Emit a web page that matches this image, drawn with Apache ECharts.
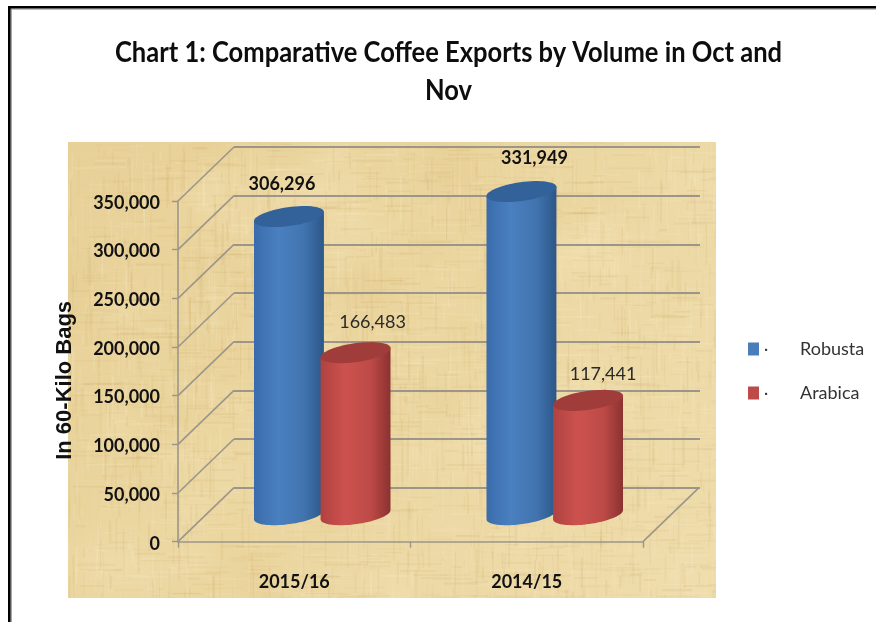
<!DOCTYPE html>
<html>
<head>
<meta charset="utf-8">
<title>Comparative Coffee Exports</title>
<style>html,body{margin:0;padding:0;background:#fff}#chart{width:876px;height:622px}</style>
<script src="https://cdn.jsdelivr.net/npm/echarts@6/dist/echarts.min.js"></script>
</head>
<body>
<div id="chart"></div>
<script>
// Export volumes in 60-kilo bags
const categories = ['2015/16', '2014/15'];
const robusta = [306296, 331949];
const arabica = [166483, 117441];
const yTicks = { min: 0, max: 350000, interval: 50000 };

// Oblique projection of the chart box
const DEPTH = { dx: 56, dy: 54 };
const MID = 0.5;           // cylinders stand halfway back on the floor
const PAIR_OFFSET = 33.3;  // half the spacing of the two cylinders in a pair
const RX = 35.3, RY = 9.4, TILT = -8 * Math.PI / 180;
const GRID_COLOR = '#9c968a';
const TEXT_FONT = 'Lato, "Open Sans", sans-serif';

// Value labels sit a little off the cylinder axis
const robustaLabelShift = [[-7, -32.5], [13, -33]];
const arabicaLabelShift = [[17, -30.5], [15, -26]];

const ROBUSTA_SHADE = ['#3a6cab', '#4a80c0', '#4173ae', '#2c5788'];
const ARABICA_SHADE = ['#b04240', '#cc524f', '#bd4a47', '#8a3230'];

function ringPoint(cx, cy, t) {
  const c = Math.cos(t), s = Math.sin(t);
  return [
    cx + RX * c * Math.cos(TILT) - RY * s * Math.sin(TILT),
    cy + RX * c * Math.sin(TILT) + RY * s * Math.cos(TILT)
  ];
}

function ring(cx, cy, from, to, n) {
  const pts = [];
  for (let i = 0; i <= n; i++) pts.push(ringPoint(cx, cy, from + (to - from) * i / n));
  return pts;
}

function cylinder(sign, shade, topColor, labelShift, bold) {
  return function (params, api) {
    const cat = api.value(0);
    const top = api.coord([cat, api.value(1)]);
    const base = api.coord([cat, 0]);
    const cx = top[0] + DEPTH.dx * MID + sign * PAIR_OFFSET;
    const topY = top[1] - DEPTH.dy * MID;
    const baseY = base[1] - DEPTH.dy * MID;
    const shift = labelShift[params.dataIndex];
    const outline = ring(cx, baseY, Math.PI, 0, 40).concat(
      [ringPoint(cx, topY, 0), ringPoint(cx, topY, Math.PI)]
    );
    return {
      type: 'group',
      children: [
        {
          type: 'polygon',
          shape: { points: outline },
          style: {
            fill: new echarts.graphic.LinearGradient(0, 0, 1, 0, [
              { offset: 0, color: shade[0] },
              { offset: 0.35, color: shade[1] },
              { offset: 0.72, color: shade[2] },
              { offset: 1, color: shade[3] }
            ])
          }
        },
        {
          type: 'polygon',
          shape: { points: ring(cx, topY, 0, Math.PI * 2, 60) },
          style: { fill: topColor }
        },
        {
          type: 'text',
          style: {
            x: cx + shift[0],
            y: topY + shift[1],
            text: api.value(1).toLocaleString('en-US'),
            align: 'center',
            verticalAlign: 'middle',
            fill: bold ? '#111' : '#2a2a2a',
            font: (bold ? 'bold ' : '400 ') + '18px ' + TEXT_FONT
          }
        }
      ]
    };
  };
}

// Diagonals joining the front axis to the back wall at every tick, plus the floor's right edge.
// The first value is a position along the x axis in band widths from the first category.
function depthLines(params, api) {
  const p = api.coord([0, api.value(1)]);
  const x = p[0] + api.value(0) * api.size([1, 0])[0];
  return {
    type: 'line',
    shape: { x1: x, y1: p[1], x2: x + DEPTH.dx, y2: p[1] - DEPTH.dy },
    style: { stroke: GRID_COLOR, lineWidth: 1.6 }
  };
}

// Parchment backdrop: warm base with fine crossed fibres and faint blotches
function parchment(w, h) {
  const cv = document.createElement('canvas');
  cv.width = w; cv.height = h;
  const g = cv.getContext('2d');
  let seed = 20151;
  const rnd = () => (seed = (seed * 16807) % 2147483647) / 2147483647;
  const base = g.createLinearGradient(0, 0, w, h);
  base.addColorStop(0, '#e8d198');
  base.addColorStop(0.45, '#ebd6a0');
  base.addColorStop(1, '#eedcab');
  g.fillStyle = base;
  g.fillRect(0, 0, w, h);
  for (let i = 0; i < 70; i++) {
    const x = rnd() * w, y = rnd() * h, r = 25 + rnd() * 50;
    const dark = rnd() < 0.5;
    const b = g.createRadialGradient(x, y, 0, x, y, r);
    b.addColorStop(0, dark ? 'rgba(222,192,125,0.18)' : 'rgba(248,234,196,0.22)');
    b.addColorStop(1, 'rgba(236,215,162,0)');
    g.fillStyle = b;
    g.fillRect(x - r, y - r, r * 2, r * 2);
  }
  for (let i = 0; i < 3600; i++) {
    const dark = rnd() < 0.5;
    g.fillStyle = dark
      ? 'rgba(200,162,92,' + (0.05 + rnd() * 0.10) + ')'
      : 'rgba(252,240,208,' + (0.06 + rnd() * 0.12) + ')';
    if (i % 2) g.fillRect(rnd() * w, rnd() * h, 1 + rnd() * 1.2, 6 + rnd() * 40);
    else g.fillRect(rnd() * w, rnd() * h, 6 + rnd() * 40, 1 + rnd() * 1.2);
  }
  return cv;
}

const floorEdge = [[1.5, 0]];
const tickRows = [];
for (let v = yTicks.min; v <= yTicks.max; v += yTicks.interval) tickRows.push([-0.5, v]);

const chart = echarts.init(document.getElementById('chart'), null, { renderer: 'canvas' });
chart.setOption({
  animation: false,
  backgroundColor: '#fff',
  legend: {
    orient: 'vertical',
    left: 748,
    top: 340,
    padding: 0,
    itemWidth: 11,
    itemHeight: 13,
    itemGap: 26,
    icon: 'rect',
    data: ['Robusta', 'Arabica'],
    formatter: name => '{d|·}{n|' + name + '}',
    textStyle: {
      rich: {
        d: { width: 36, fontSize: 16, color: '#333', fontFamily: TEXT_FONT },
        n: { fontSize: 18, color: '#333', fontFamily: TEXT_FONT }
      }
    }
  },
  grid: [
    { left: 178, top: 201, width: 465, height: 340.7 },
    { left: 234, top: 147, width: 466, height: 340.7 }
  ],
  xAxis: [
    {
      gridIndex: 0, type: 'category', data: categories,
      axisLine: { lineStyle: { color: GRID_COLOR, width: 1.6 } },
      axisTick: { show: true, length: 6, alignWithLabel: false, lineStyle: { color: GRID_COLOR, width: 1.4 } },
      axisLabel: { margin: 31, fontFamily: TEXT_FONT, fontWeight: 'bold', fontSize: 18, color: '#111' }
    },
    { gridIndex: 1, type: 'category', data: categories, show: false }
  ],
  yAxis: [
    {
      gridIndex: 0, type: 'value', min: yTicks.min, max: yTicks.max, interval: yTicks.interval,
      name: 'In 60-Kilo Bags',
      nameLocation: 'middle',
      nameGap: 102,
      nameTextStyle: {
        fontFamily: 'Liberation Sans', fontWeight: 'bold', fontSize: 22, color: '#111',
        padding: [0, 18, 0, 0]
      },
      axisLine: { show: true, lineStyle: { color: GRID_COLOR, width: 1.6 } },
      axisTick: { show: true, length: 6, lineStyle: { color: GRID_COLOR, width: 1.4 } },
      axisLabel: {
        margin: 18,
        formatter: v => '{t|' + v.toLocaleString('en-US') + '}',
        rich: {
          t: { padding: [4, 0, 0, 0], fontFamily: TEXT_FONT, fontWeight: 'bold', fontSize: 18, color: '#111' }
        }
      },
      splitLine: { show: false }
    },
    {
      gridIndex: 1, type: 'value', min: yTicks.min, max: yTicks.max, interval: yTicks.interval,
      axisLine: { show: false }, axisTick: { show: false }, axisLabel: { show: false },
      splitLine: { show: true, lineStyle: { color: GRID_COLOR, width: 2 } }
    }
  ],
  graphic: [
    { type: 'image', z: -10, left: 68, top: 142, style: { image: parchment(648, 456), x: 0, y: 0 } },
    { type: 'rect', z: 5, shape: { x: 8, y: 6, width: 868, height: 2.4 }, style: { fill: '#000' } },
    { type: 'rect', z: 4, shape: { x: 8, y: 8.4, width: 868, height: 1.4 }, style: { fill: '#a8a8a8' } },
    { type: 'rect', z: 5, shape: { x: 8, y: 6, width: 2.6, height: 616 }, style: { fill: '#000' } },
    { type: 'rect', z: 4, shape: { x: 10.6, y: 8, width: 1.4, height: 614 }, style: { fill: '#a8a8a8' } },
    {
      type: 'text', z: 6, x: 448.5, y: 72, scaleX: 0.88,
      style: {
        text: 'Chart 1: Comparative Coffee Exports by Volume in Oct and\nNov',
        x: 0, y: 0, align: 'center', verticalAlign: 'middle',
        font: 'bold 29px ' + TEXT_FONT, lineHeight: 38, fill: '#0d0d0d'
      }
    }
  ],
  series: [
    { type: 'custom', xAxisIndex: 0, yAxisIndex: 0, silent: true, z: 1, clip: false,
      data: tickRows, renderItem: depthLines },
    { type: 'custom', xAxisIndex: 0, yAxisIndex: 0, silent: true, z: 1, clip: false,
      data: floorEdge, renderItem: depthLines },
    {
      name: 'Robusta', type: 'custom', xAxisIndex: 0, yAxisIndex: 0, z: 3, clip: false,
      itemStyle: { color: '#4a7ebb' },
      data: robusta.map((v, i) => [i, v]),
      renderItem: cylinder(-1, ROBUSTA_SHADE, '#33629b', robustaLabelShift, true)
    },
    {
      name: 'Arabica', type: 'custom', xAxisIndex: 0, yAxisIndex: 0, z: 4, clip: false,
      itemStyle: { color: '#be4b48' },
      data: arabica.map((v, i) => [i, v]),
      renderItem: cylinder(1, ARABICA_SHADE, '#a03c3a', arabicaLabelShift, false)
    }
  ]
});
</script>
</body>
</html>
